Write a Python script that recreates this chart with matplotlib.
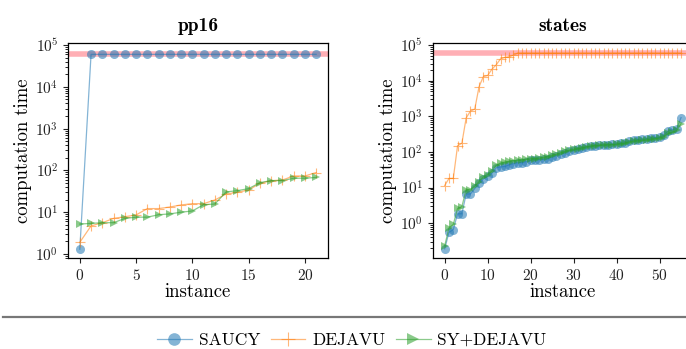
import matplotlib
matplotlib.use("Agg")
import matplotlib.pyplot as plt
from matplotlib.lines import Line2D
from matplotlib.ticker import MultipleLocator

# ------------------ data ------------------
TIMEOUT = 6e4

pp16_x = list(range(22))
pp16_saucy = [1.3, 6e4, 6e4, 6e4, 6e4, 6e4, 6e4, 6e4, 6e4, 6e4, 6e4,
              6e4, 6e4, 6e4, 6e4, 6e4, 6e4, 6e4, 6e4, 6e4, 6e4, 6e4]
pp16_dejavu = [1.9, 4.7, 5.6, 7.1, 7.8, 8.6, 12.2, 12.2, 13.3, 14.9, 16.0,
               16.0, 19.6, 27.2, 29.9, 33.9, 49.0, 56.8, 59.0, 73.5, 73.5, 89.0]
pp16_sy = [5.2, 5.4, 5.6, 5.6, 7.1, 7.6, 7.6, 8.7, 9.1, 10.0, 10.7,
           15.1, 15.7, 30.5, 32.8, 36.6, 51.0, 57.0, 57.0, 65.0, 65.0, 68.0]

states_x = list(range(56))
states_saucy = [0.19, 0.55, 0.66, 1.83, 1.83, 6.6, 6.6, 9.4, 13.0, 17.5,
                20.8, 25.2, 36.0, 38.0, 39.0, 43.3, 47.0, 50.0, 50.0, 53.4,
                58.5, 61.0, 61.0, 62.0, 65.0, 72.0, 79.0, 88.0, 96.0, 107.0,
                111.0, 118.0, 130.0, 138.0, 144.0, 150.0, 154.0, 156.0, 160.0, 163.0,
                168.0, 175.0, 182.0, 204.0, 216.0, 221.0, 226.0, 231.0, 246.0, 250.0,
                257.0, 292.0, 389.0, 417.0, 450.0, 920.0]
states_dejavu = [11.4, 18.0, 18.0, 150.0, 175.0, 900.0, 1400.0, 1600.0, 6800.0, 13000.0,
                 14000.0, 21000.0, 28000.0, 41000.0, 45000.0, 47000.0, 52000.0, 6e4, 6e4, 6e4,
                 6e4, 6e4, 6e4, 6e4, 6e4, 6e4, 6e4, 6e4, 6e4, 6e4,
                 6e4, 6e4, 6e4, 6e4, 6e4, 6e4, 6e4, 6e4, 6e4, 6e4,
                 6e4, 6e4, 6e4, 6e4, 6e4, 6e4, 6e4, 6e4, 6e4, 6e4,
                 6e4, 6e4, 6e4, 6e4, 6e4, 6e4]
states_sy = [0.23, 0.74, 0.92, 2.6, 2.9, 8.8, 8.8, 11.0, 14.5, 20.0,
             23.0, 29.0, 42.0, 49.0, 52.0, 55.0, 57.0, 58.0, 60.0, 62.0,
             64.0, 65.0, 67.0, 70.0, 74.0, 80.0, 86.0, 95.0, 104.0, 112.0,
             117.0, 124.0, 132.0, 140.0, 146.0, 150.0, 153.0, 156.0, 158.0, 160.0,
             163.0, 168.0, 175.0, 190.0, 200.0, 205.0, 210.0, 214.0, 225.0, 235.0,
             245.0, 270.0, 330.0, 360.0, 400.0, 620.0]

LABELS = ["SAUCY", "DEJAVU", "SY+DEJAVU"]
# -------------------------------------------------------------------

plt.rcParams["font.family"] = ["cmr10", "DejaVu Serif"]
plt.rcParams["mathtext.fontset"] = "cm"
plt.rcParams["axes.unicode_minus"] = False
plt.rcParams["axes.formatter.use_mathtext"] = True

STYLES = [
    dict(color="#1f77b4", marker="o", ms=6.5, mew=0),
    dict(color="#ff7f0e", marker="+", ms=7.5, mew=0.8),
    dict(color="#2ca02c", marker=">", ms=6, mew=0),
]

fig = plt.figure(figsize=(6.86, 3.49), dpi=100)
ax1 = fig.add_axes([0.0991, 0.2607, 0.379, 0.616])
ax2 = fig.add_axes([0.631, 0.2607, 0.379, 0.616])

panels = [
    (ax1, "pp16", pp16_x, [pp16_saucy, pp16_dejavu, pp16_sy], (-1.05, 22.05), (0.8, 1.12e5), 5),
    (ax2, "states", states_x, [states_saucy, states_dejavu, states_sy], (-2.75, 57.75), (0.105, 1.14e5), 10),
]

for ax, title, x, series, xlim, ylim, xstep in panels:
    ax.axhline(TIMEOUT, color="#ff7b85", alpha=0.6, lw=4, zorder=1)
    for ys, st in zip(series, STYLES):
        ax.plot(x, ys, lw=0.9, alpha=0.55, zorder=2, **st)
    ax.set_yscale("log")
    ax.set_xlim(*xlim)
    ax.set_ylim(*ylim)
    ax.xaxis.set_major_locator(MultipleLocator(xstep))
    ax.set_title(title, family="cmb10", fontsize=14, pad=9)
    ax.set_xlabel("instance", fontsize=13.5, labelpad=0)
    ax.set_ylabel("computation time", fontsize=13.5, labelpad=2)
    ax.tick_params(labelsize=11, colors="#222222")
    for sp in ax.spines.values():
        sp.set_linewidth(0.9)

# separator line and legend below the panels
fig.add_artist(Line2D([0.004, 1.0], [0.0926, 0.0926], color="#777777", lw=1.6))

handles = [Line2D([], [], lw=0.9, alpha=0.55, **st) for st in STYLES]
fig.legend(handles, LABELS, loc="center", bbox_to_anchor=(0.513, 0.026), ncol=3,
           frameon=False, fontsize=12.5, markerscale=1.4, handlelength=2.0,
           handletextpad=0.4, columnspacing=0.6)

fig.savefig("out.png", dpi=100)
